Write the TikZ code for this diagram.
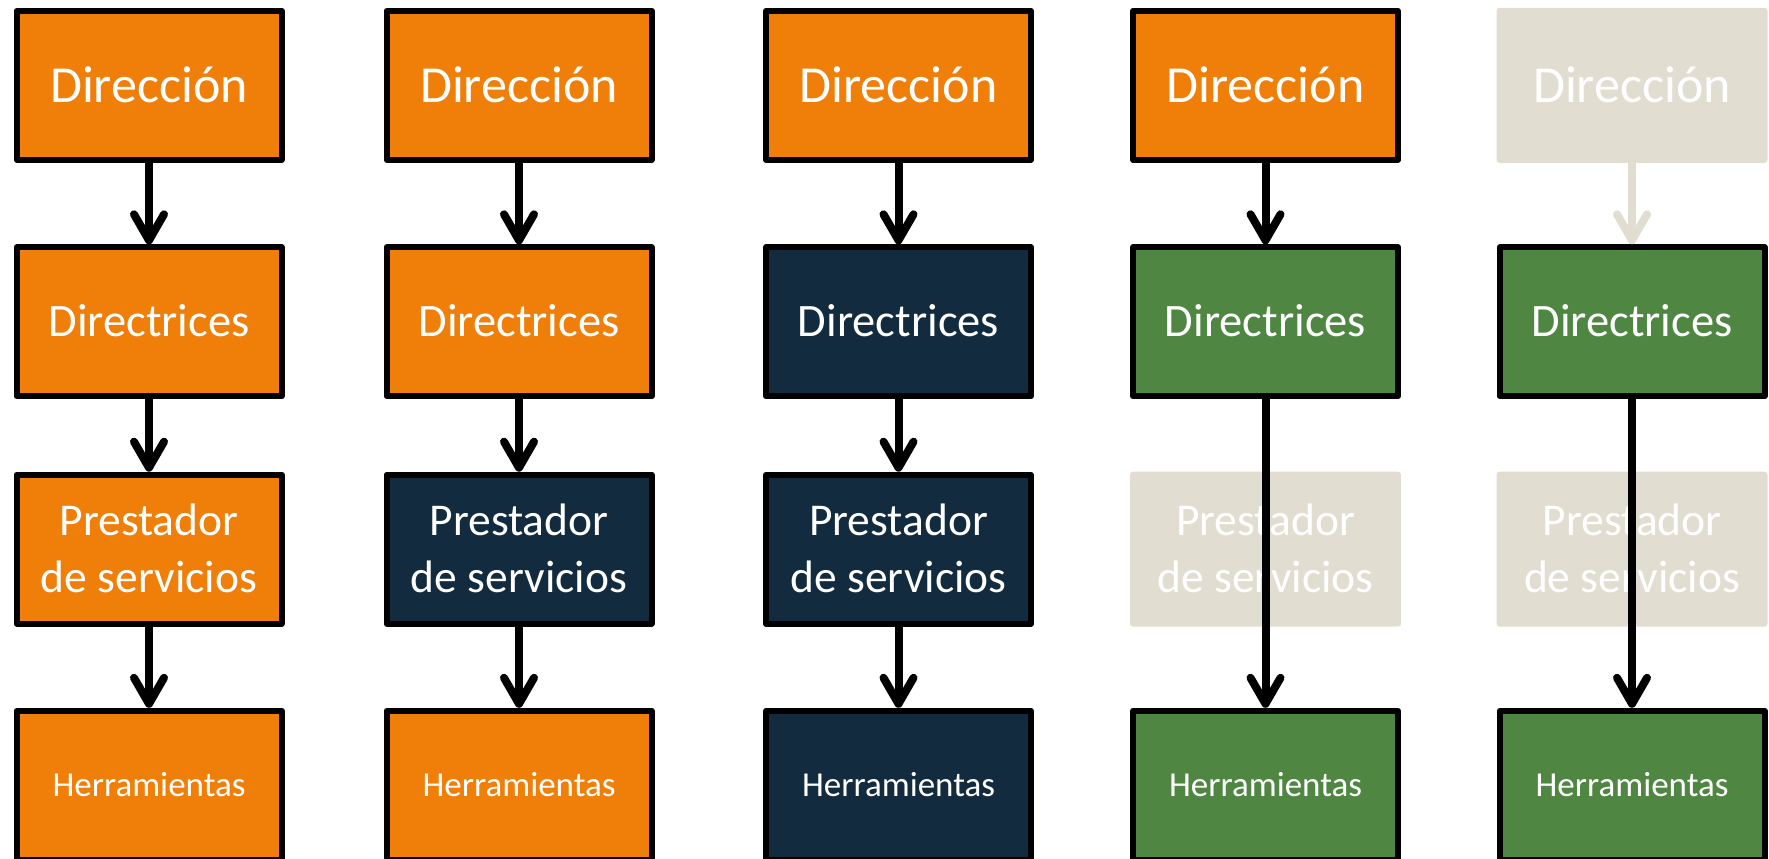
\documentclass[tikz,border=0pt]{standalone}
\usepackage{fontspec}
\setmainfont{Carlito}
\usetikzlibrary{arrows.meta}
\definecolor{cOrange}{HTML}{F07F09}
\definecolor{cNavy}{HTML}{122B3E}
\definecolor{cGreen}{HTML}{4F8742}
\definecolor{cBeige}{HTML}{E2DDD1}
\begin{document}
\begin{tikzpicture}[x=1pt,y=-1pt,
  box/.style={draw=black, line width=6pt, line join=round, minimum width=265pt, minimum height=149pt, inner sep=0pt, text=white, align=center},
  faded/.style={fill=cBeige, rounded corners=3pt, minimum width=271pt, minimum height=155pt, inner sep=0pt, text=white, align=center},
  org/.style={box, fill=cOrange},
  nav/.style={box, fill=cNavy},
  grn/.style={box, fill=cGreen},
  fdir/.style={font=\fontsize{52}{62}\selectfont, text height=34pt, text depth=0pt},
  fdirs/.style={font=\fontsize{46.5}{56}\selectfont, text height=30pt, text depth=0pt},
  fpres/.style={font=\fontsize{45.5}{57}\selectfont, text height=86pt, text depth=0pt},
  fherr/.style={font=\fontsize{35}{42}\selectfont, text height=22pt, text depth=0pt},
  arr/.style={draw=black, line width=8pt, -{Straight Barb[length=26pt,width=30pt,round]}},
  farr/.style={arr, draw=cBeige}
]
\useasboundingbox (0,0) rectangle (1769,859);
% column 1
\node[org, fdir]  (d1) at (149,85.3)  {Dirección};
\node[org, fdirs] (r1) at (149,321.8) {Directrices};
\node[org, fpres] (p1) at (149,549.2) {Prestador\\de servicios};
\node[org, fherr] (h1) at (149,785.3) {Herramientas};
% column 2
\node[org, fdir]  (d2) at (519,85.3)  {Dirección};
\node[org, fdirs] (r2) at (519,321.8) {Directrices};
\node[nav, fpres] (p2) at (519,549.2) {Prestador\\de servicios};
\node[org, fherr] (h2) at (519,785.3) {Herramientas};
% column 3
\node[org, fdir]  (d3) at (898.5,85.3)  {Dirección};
\node[nav, fdirs] (r3) at (898.5,321.8) {Directrices};
\node[nav, fpres] (p3) at (898.5,549.2) {Prestador\\de servicios};
\node[nav, fherr] (h3) at (898.5,785.3) {Herramientas};
% column 4
\node[org, fdir]  (d4) at (1265.5,85.3)  {Dirección};
\node[grn, fdirs] (r4) at (1265.5,321.8) {Directrices};
\node[faded, fpres] (p4) at (1265.5,549.2) {Prestador\\de servicios};
\node[grn, fherr] (h4) at (1265.5,785.3) {Herramientas};
% column 5
\node[faded, fdir]  (d5) at (1632,85.3)  {Dirección};
\node[grn, fdirs] (r5) at (1632,321.8) {Directrices};
\node[faded, fpres] (p5) at (1632,549.2) {Prestador\\de servicios};
\node[grn, fherr] (h5) at (1632,785.3) {Herramientas};
% arrows
\draw[arr] (d1.south) -- (r1.north);
\draw[arr] (r1.south) -- (p1.north);
\draw[arr] (p1.south) -- (h1.north);
\draw[arr] (d2.south) -- (r2.north);
\draw[arr] (r2.south) -- (p2.north);
\draw[arr] (p2.south) -- (h2.north);
\draw[arr] (d3.south) -- (r3.north);
\draw[arr] (r3.south) -- (p3.north);
\draw[arr] (p3.south) -- (h3.north);
\draw[arr] (d4.south) -- (r4.north);
\draw[arr] (r4.south) -- (h4.north);
\draw[farr] (d5.south) -- (r5.north);
\draw[arr] (r5.south) -- (h5.north);
\end{tikzpicture}
\end{document}
